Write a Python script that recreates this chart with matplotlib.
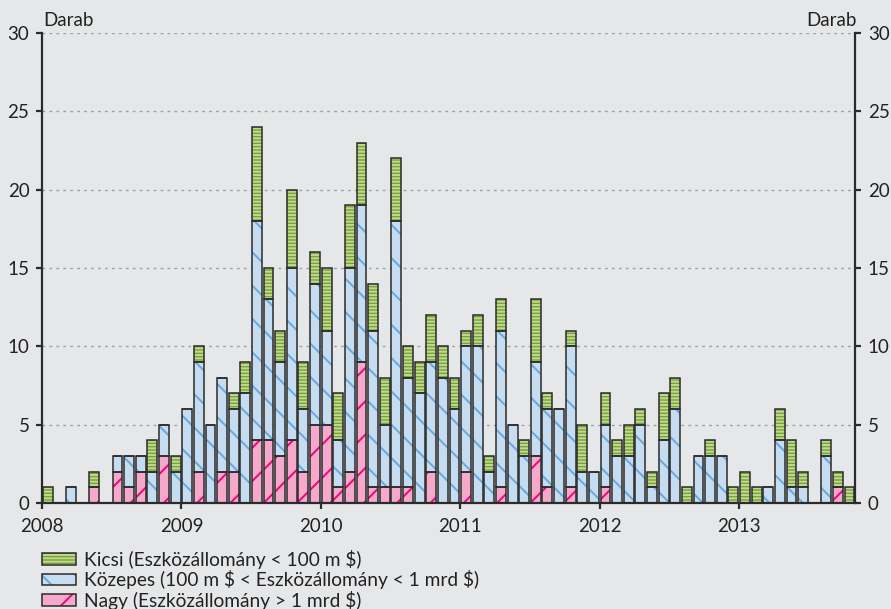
import numpy as np
import matplotlib.pyplot as plt
from matplotlib.patches import Patch
from matplotlib.legend_handler import HandlerTuple

# monthly counts, Jan 2008 .. Oct 2013
nagy = [0, 0, 0, 0, 1, 0, 2, 1, 2, 0, 3, 0,
        0, 2, 0, 2, 2, 0, 4, 4, 3, 4, 2, 5,
        5, 1, 2, 9, 1, 1, 1, 1, 0, 2, 0, 0,
        2, 0, 0, 1, 0, 0, 3, 1, 0, 1, 0, 0,
        1, 0, 0, 0, 0, 0, 0, 0, 0, 0, 0, 0,
        0, 0, 0, 0, 0, 0, 0, 0, 1, 0]
kozepes = [0, 0, 1, 0, 0, 0, 1, 2, 1, 2, 2, 2,
           6, 7, 5, 6, 4, 7, 14, 9, 6, 11, 4, 9,
           6, 3, 13, 10, 10, 4, 17, 7, 7, 7, 8, 6,
           8, 10, 2, 10, 5, 3, 6, 5, 6, 9, 2, 2,
           4, 3, 3, 5, 1, 4, 6, 0, 3, 3, 3, 0,
           0, 0, 1, 4, 1, 1, 0, 3, 0, 0]
kicsi = [1, 0, 0, 0, 1, 0, 0, 0, 0, 2, 0, 1,
         0, 1, 0, 0, 1, 2, 6, 2, 2, 5, 3, 2,
         4, 3, 4, 4, 3, 3, 4, 2, 2, 3, 2, 2,
         1, 2, 1, 2, 0, 1, 4, 1, 0, 1, 3, 0,
         2, 1, 2, 1, 1, 3, 2, 1, 0, 1, 0, 1,
         2, 1, 0, 2, 3, 1, 0, 1, 1, 1]
years = ['2008', '2009', '2010', '2011', '2012', '2013']
labels = [r'Kicsi (Eszközállomány < 100 m \$)',
          r'Közepes (100 m \$ < Eszközállomány < 1 mrd \$)',
          r'Nagy (Eszközállomány > 1 mrd \$)']

bg = '#E6E7E9'
edge = '#2B2B2B'
txt = '#222222'

plt.rcParams['font.family'] = ['Lato', 'DejaVu Sans']
plt.rcParams['hatch.linewidth'] = 1.4
plt.rcParams['font.size'] = 13.5

fig = plt.figure(figsize=(8.91, 6.09), dpi=100, facecolor=bg)
ax = fig.add_axes([0.0471, 0.174, 0.9129, 0.7718])
ax.set_facecolor(bg)

series = [
    (nagy, '#F7A9CC', '#E5087F', '/'),
    (kozepes, '#C6DCF1', '#69A8DA', '\\'),
    (kicsi, '#78A434', '#C0D893', '-----'),
]

x = np.arange(len(nagy)) + 0.5
bottom = np.zeros(len(nagy))
for vals, fc, hc, h in series:
    vals = np.array(vals, dtype=float)
    ax.bar(x, vals, 0.85, bottom=bottom, color=fc, lw=0, zorder=2)
    ax.bar(x, vals, 0.85, bottom=bottom, facecolor='none', edgecolor=hc,
           hatch=h, lw=0, zorder=3)
    ax.bar(x, vals, 0.85, bottom=bottom, facecolor='none', edgecolor=edge,
           lw=1.1, zorder=4)
    bottom += vals

ax.set_xlim(0, 70)
ax.set_ylim(0, 30)
ax.set_xticks(np.arange(0, 72, 12))
ax.set_xticklabels(years)
ax.set_yticks(np.arange(0, 31, 5))
ax.yaxis.grid(True, color='#A0A0A0', lw=1, linestyle=(0, (2, 3)))
ax.set_axisbelow(True)

for s in ['left', 'right', 'bottom']:
    ax.spines[s].set_color(edge)
    ax.spines[s].set_linewidth(1.6)
    ax.spines[s].set_zorder(5)
ax.spines['top'].set_visible(False)

ax.tick_params(axis='y', left=True, right=True, labelleft=True, labelright=True,
               direction='out', length=4, width=1.6, color=edge, pad=5,
               labelcolor=txt)
ax.tick_params(axis='x', direction='out', length=4, width=1.6, color=edge,
               pad=7, labelcolor=txt)

ax.text(0.002, 1.008, 'Darab', transform=ax.transAxes, ha='left',
        va='bottom', color=txt)
ax.text(1.002, 1.008, 'Darab', transform=ax.transAxes, ha='right',
        va='bottom', color=txt)

handles = []
for vals, fc, hc, h in series[::-1]:
    handles.append((Patch(facecolor=fc, lw=0),
                    Patch(facecolor='none', edgecolor=hc, hatch=h, lw=0),
                    Patch(facecolor='none', edgecolor=edge, lw=1.1)))
fig.legend(handles, labels, handler_map={tuple: HandlerTuple(ndivide=1, pad=0)},
           loc='upper left', bbox_to_anchor=(0.047, 0.0975), frameon=False,
           borderpad=0, borderaxespad=0, handlelength=1.8, handleheight=0.55,
           handletextpad=0.4, labelspacing=0.08, fontsize=13.8,
           labelcolor=txt)

fig.savefig('out.png', dpi=100, facecolor=bg)
